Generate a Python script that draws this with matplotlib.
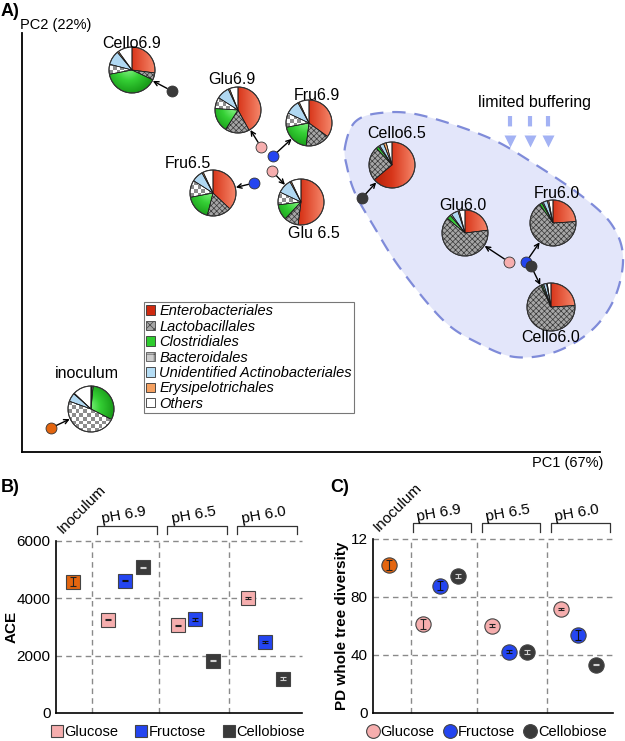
import numpy as np
import matplotlib
matplotlib.use('Agg')
import matplotlib.pyplot as plt
import matplotlib.transforms as mtransforms
from matplotlib.patches import Wedge, Circle, Patch, Polygon
from matplotlib.colors import LinearSegmentedColormap, ListedColormap

plt.rcParams['font.family'] = ['Liberation Sans', 'DejaVu Sans']
plt.rcParams['hatch.linewidth'] = 0.5

# ---- data: PCA (panel A) ----
samples = ['inoculum', 'Cello6.9', 'Glu6.9', 'Fru6.9', 'Fru6.5', 'Glu 6.5',
           'Cello6.5', 'Glu6.0', 'Fru6.0', 'Cello6.0']
sample_sugar = ['Inoculum', 'Cellobiose', 'Glucose', 'Fructose', 'Fructose',
                'Glucose', 'Cellobiose', 'Glucose', 'Fructose', 'Cellobiose']
pc1_score = [29, 150, 239, 251, 232, 250, 340, 487, 504, 509]
pc2_score = [24, 361, 305, 296, 269, 281, 254, 190, 190, 186]

orders = ['Enterobacteriales', 'Lactobacillales', 'Clostridiales', 'Bacteroidales',
          'Unidentified Actinobacteriales', 'Erysipelotrichales', 'Others']
entero = [0.5, 27, 42, 35, 37, 52, 64, 23, 24, 24]
lacto = [1, 5, 17, 17, 17, 10, 24, 63, 66, 69]
clostr = [31, 40, 17, 20, 18, 11, 2, 3, 2, 1]
bactero = [48, 7, 8, 10, 12, 9, 1, 1, 1, 1]
actino = [6, 10, 9, 10, 8, 10, 3, 5, 3, 2]
erysip = [0.5, 1, 1, 1, 1, 1, 2, 1, 1, 0.5]
others = [13, 10, 6, 7, 7, 7, 4, 4, 3, 2.5]

# ---- data: alpha diversity (panels B, C) ----
ph_groups = ['pH 6.9', 'pH 6.5', 'pH 6.0']
sugars = ['Glucose', 'Fructose', 'Cellobiose']
ace_inoc, ace_inoc_err = 4580, 150
ace = {'Glucose': [3260, 3060, 4000],
       'Fructose': [4610, 3270, 2480],
       'Cellobiose': [5080, 1830, 1200]}
ace_err = {'Glucose': [15, 25, 35],
           'Fructose': [20, 60, 30],
           'Cellobiose': [20, 30, 50]}
pd_inoc, pd_inoc_err = 102, 3.2
pd_div = {'Glucose': [61.6, 60.2, 71.7],
          'Fructose': [87.8, 42.3, 53.6],
          'Cellobiose': [94.7, 42.3, 33.3]}
pd_err = {'Glucose': [3.5, 1.2, 1.0],
          'Fructose': [3.0, 1.0, 3.5],
          'Cellobiose': [1.5, 1.3, 0.5]}

# ---- styles ----
sugar_color = {'Inoculum': '#e3650f', 'Glucose': '#f6aeae',
               'Fructose': '#2445f0', 'Cellobiose': '#3a3a3a'}
bar_color = {'Inoculum': '#222222', 'Glucose': '#222222',
             'Fructose': '#111111', 'Cellobiose': '#d0d0d0'}

fig = plt.figure(figsize=(6.25, 7.41), dpi=100)

# ================= Panel A =================
ax = fig.add_axes([22/625, 289/741, 578/625, 419/741])
for s in ['top', 'right']:
    ax.spines[s].set_visible(False)
for s in ['left', 'bottom']:
    ax.spines[s].set_linewidth(1.3)
ax.set_xticks([])
ax.set_yticks([])
ax.patch.set_alpha(0)


def smooth_closed(pts, n=24):
    pts = np.asarray(pts, float)
    N = len(pts)
    out = []
    t = np.linspace(0, 1, n, endpoint=False)[:, None]
    for i in range(N):
        p0, p1, p2, p3 = pts[i-1], pts[i], pts[(i+1) % N], pts[(i+2) % N]
        out.append(0.5*((2*p1) + (-p0+p2)*t + (2*p0-5*p1+4*p2-p3)*t**2
                        + (-p0+3*p1-3*p2+p3)*t**3))
    return np.vstack(out)


# low-buffering cluster outline (pixel outline of hand-drawn blob)
blob_px = [(345, 147), (355, 122), (380, 113), (420, 115), (487, 137), (533, 163),
           (583, 197), (612, 225), (623, 257), (615, 297), (592, 330), (555, 352),
           (515, 357), (478, 343), (443, 320), (400, 268), (373, 225), (355, 193),
           (347, 167)]
blob = np.array([(x - 22, 452 - y) for x, y in blob_px])
ax.add_patch(Polygon(smooth_closed(blob), closed=True, facecolor='#e3e6fa',
                     edgecolor='#7f8bd9', lw=1.6, linestyle=(0, (6, 4)),
                     clip_on=False, zorder=0))

ax.text(513, 350, 'limited buffering', fontsize=11.5, ha='center', va='center')
for xa in [488, 508, 526]:
    ax.plot([xa, xa], [336, 318], color='#a3b2f4', lw=3, dashes=(2.5, 1.8),
            solid_capstyle='butt')
    ax.plot([xa], [311], marker='v', ms=9, color='#a3b2f4', mec='none')

pie_offset = {'inoculum': (40, 19), 'Cello6.9': (-40, 21), 'Glu6.9': (-23, 37),
              'Fru6.9': (36, 33), 'Glu 6.5': (29, -31), 'Fru6.5': (-41, -10),
              'Cello6.5': (30, 33), 'Glu6.0': (-44, 29), 'Fru6.0': (27, 39),
              'Cello6.0': (20, -41)}
label_offset = {'inoculum': (-4, 36), 'Cello6.9': (0, 27), 'Glu6.9': (-6, 30),
                'Fru6.9': (8, 28), 'Glu 6.5': (13, -31), 'Fru6.5': (-25, 29),
                'Cello6.5': (5, 32), 'Glu6.0': (-2, 28), 'Fru6.0': (4, 30),
                'Cello6.0': (0, -31)}
pie_r = 23

red_cmap = LinearSegmentedColormap.from_list('red', ['#a81a04', '#d8361a', '#f5866a'])
green_cmap = LinearSegmentedColormap.from_list('green', ['#8df58d', '#35d035', '#1a9e1a'])
checker_cmap = ListedColormap(['#ffffff', '#8c8c8c'])


def draw_pie(cx, cy, r, fracs):
    ext = (cx - r, cx + r, cy - r, cy + r)
    theta = 90.0
    for i, f in enumerate(fracs):
        if f <= 0:
            continue
        t1 = theta - f * 3.6
        if i == 0:
            w = Wedge((cx, cy), r, t1, theta, facecolor='none', lw=0, zorder=3)
            ax.add_patch(w)
            g = np.tile(np.linspace(0, 1, 60), (60, 1))
            im = ax.imshow(g, cmap=red_cmap, extent=ext, origin='lower',
                           aspect='auto', zorder=3)
            im.set_clip_path(w)
        elif i == 1:
            ax.add_patch(Wedge((cx, cy), r, t1, theta, facecolor='#a6a6a6',
                               hatch='xxxxxx', edgecolor='#383838', lw=0, zorder=3))
        elif i == 2:
            w = Wedge((cx, cy), r, t1, theta, facecolor='none', lw=0, zorder=3)
            ax.add_patch(w)
            yy, xx = np.mgrid[-1:1:60j, -1:1:60j]
            d = np.hypot(xx + 0.15, yy - 0.1)
            im = ax.imshow(d, cmap=green_cmap, extent=ext, origin='lower',
                           aspect='auto', zorder=3, vmin=0, vmax=1.1)
            im.set_clip_path(w)
        elif i == 3:
            w = Wedge((cx, cy), r, t1, theta, facecolor='none', lw=0, zorder=3)
            ax.add_patch(w)
            n = 12
            chk = np.add.outer(np.arange(n), np.arange(n)) % 2
            im = ax.imshow(chk, cmap=checker_cmap, extent=ext, origin='lower',
                           aspect='auto', interpolation='nearest', zorder=3)
            im.set_clip_path(w)
        else:
            fc = {4: '#b0d8f2', 5: '#f2a566', 6: '#ffffff'}[i]
            ax.add_patch(Wedge((cx, cy), r, t1, theta, facecolor=fc, lw=0, zorder=3))
        # slice boundary
        ax.add_patch(Wedge((cx, cy), r, t1, theta, facecolor='none',
                           edgecolor='#1a1a1a', lw=0.5, zorder=4))
        theta = t1
    ax.add_patch(Circle((cx, cy), r, facecolor='none', edgecolor='#333333',
                        lw=0.8, zorder=5))


for k, name in enumerate(samples):
    x, y = pc1_score[k], pc2_score[k]
    dx, dy = pie_offset[name]
    cx, cy = x + dx, y + dy
    r = pie_r + (1 if name == 'Cello6.0' else 0)
    fr = [entero[k], lacto[k], clostr[k], bactero[k], actino[k], erysip[k], others[k]]
    draw_pie(cx, cy, r, fr)
    u = np.array([dx, dy], float) / np.hypot(dx, dy)
    start = np.array([x, y]) + 5.5 * u
    end = np.array([cx, cy]) - (r + 0.5) * u
    ax.annotate('', xy=end, xytext=start,
                arrowprops=dict(arrowstyle='->', lw=1, color='black',
                                shrinkA=0, shrinkB=0, mutation_scale=8))
    ax.scatter([x], [y], s=62, color=sugar_color[sample_sugar[k]],
               edgecolor='#333333', lw=0.6, zorder=6)
    lx, ly = label_offset[name]
    ax.text(cx + lx, cy + ly, name, fontsize=11.5, ha='center', va='center', zorder=7)

leg_handles = [Patch(facecolor='#cf2a10', edgecolor='#333333', lw=0.6),
               Patch(facecolor='#a6a6a6', hatch='xxxx', edgecolor='#444444', lw=0.6),
               Patch(facecolor='#2ecc2e', edgecolor='#333333', lw=0.6),
               Patch(facecolor='#cccccc', hatch='++', edgecolor='#555555', lw=0.6),
               Patch(facecolor='#b4dcf4', edgecolor='#333333', lw=0.6),
               Patch(facecolor='#f4a060', edgecolor='#333333', lw=0.6),
               Patch(facecolor='white', edgecolor='#333333', lw=0.6)]
leg = ax.legend(leg_handles, orders, loc='upper left',
                bbox_to_anchor=((144 - 22) / 578, (452 - 302) / 419),
                prop={'style': 'italic', 'size': 10.5}, frameon=True, fancybox=False,
                handlelength=0.6, handleheight=0.6, handletextpad=0.3,
                labelspacing=0.1, borderpad=0.15, borderaxespad=0)
leg.get_frame().set_edgecolor('#555555')
leg.get_frame().set_linewidth(0.8)
leg.set_zorder(8)

ax.set_xlim(0, 578)
ax.set_ylim(0, 419)

fig.text(20/625, 1 - 25/741, 'PC2 (22%)', fontsize=10.5, ha='left', va='center')
fig.text(603/625, 1 - 463/741, 'PC1 (67%)', fontsize=10.5, ha='right', va='center')
fig.text(1/625, 1 - 11/741, 'A)', fontsize=13, fontweight='bold', ha='left', va='center')
fig.text(1/625, 1 - 488/741, 'B)', fontsize=13, fontweight='bold', ha='left', va='center')
fig.text(330/625, 1 - 488/741, 'C)', fontsize=13, fontweight='bold', ha='left', va='center')


# ================= Panels B, C =================
def alpha_panel(rect, xlim, dividers, inoc_val, inoc_err, vals, errs, yticks,
                yticklabels, ylabel, ylabel_x, marker, ms, leg_x, handlelen, colsp):
    axp = fig.add_axes(rect)
    axp.set_xlim(*xlim)
    axp.set_ylim(yticks[0], yticks[-1])
    for s in ['top', 'right']:
        axp.spines[s].set_visible(False)
    for s in ['left', 'bottom']:
        axp.spines[s].set_linewidth(1.2)
    axp.set_xticks([])
    axp.set_yticks(yticks)
    axp.set_yticklabels(yticklabels, fontsize=11)
    axp.tick_params(axis='y', length=0, pad=4)
    axp.set_ylabel(ylabel, fontsize=11, fontweight='bold')
    axp.yaxis.set_label_coords(ylabel_x, 0.5)
    for yv in yticks[1:]:
        axp.axhline(yv, color='#8a8a8a', lw=1, dashes=(4, 3), zorder=0, clip_on=False)
    for xv in dividers:
        axp.axvline(xv, color='#8a8a8a', lw=1, dashes=(4, 3), zorder=0, clip_on=False)

    blend = mtransforms.blended_transform_factory(axp.transData, axp.transAxes)
    for g, lab in enumerate(ph_groups):
        x0, x1 = 4 * g - 0.6, 4 * g + 2.8
        axp.plot([x0, x0, x1, x1], [1.04, 1.09, 1.09, 1.04], color='#333333',
                 lw=0.9, transform=blend, clip_on=False)
        axp.text((x0 + x1) / 2 - 0.2, 1.15, lab, fontsize=11, rotation=10,
                 ha='center', va='center', transform=blend)
    axp.text(-2.45, 1.03, 'Inoculum', fontsize=11, rotation=45, ha='left',
             va='bottom', rotation_mode='anchor', transform=blend)

    axp.plot([-2], [inoc_val], ls='none', marker=marker, ms=ms,
             mfc=sugar_color['Inoculum'], mec='#444444', mew=0.8, zorder=3,
             clip_on=False)
    axp.errorbar([-2], [inoc_val], yerr=[inoc_err], fmt='none',
                 ecolor=bar_color['Inoculum'], elinewidth=0.8, capsize=2,
                 capthick=0.8, zorder=4)
    handles = []
    for s_i, sug in enumerate(sugars):
        xs = [4 * g + s_i for g in range(len(ph_groups))]
        h, = axp.plot(xs, vals[sug], ls='none', marker=marker, ms=ms,
                      mfc=sugar_color[sug], mec='#444444', mew=0.8, zorder=3,
                      clip_on=False)
        axp.errorbar(xs, vals[sug], yerr=errs[sug], fmt='none',
                     ecolor=bar_color[sug], elinewidth=0.8, capsize=2,
                     capthick=0.8, zorder=4)
        handles.append(h)
    axp.legend(handles, sugars, loc='center left', bbox_to_anchor=(leg_x, 9 / 741),
               bbox_transform=fig.transFigure, ncol=3, frameon=False,
               handlelength=handlelen, handletextpad=0.1, columnspacing=colsp,
               borderpad=0, borderaxespad=0, fontsize=10.5, markerscale=0.9)
    return axp


alpha_panel([56/625, 28/741, 246/625, 172/741], (-2.97, 11.09), [-0.9, 2.9, 6.9],
            ace_inoc, ace_inoc_err, ace, ace_err, [0, 2000, 4000, 6000],
            ['0', '2000', '4000', '6000'], 'ACE', -0.15, 's', 9.5,
            51 / 625, 0.8, 1.2)
alpha_panel([373/625, 28/741, 240/625, 174/741], (-2.9, 11.0), [-0.7, 3.1, 7.2],
            pd_inoc, pd_inoc_err, pd_div, pd_err, [0, 40, 80, 120],
            ['0', '40', '80', '12'], 'PD whole tree diversity', -0.1, 'o', 11,
            366 / 625, 0.9, 0.6)

fig.savefig('out.png', dpi=100)
